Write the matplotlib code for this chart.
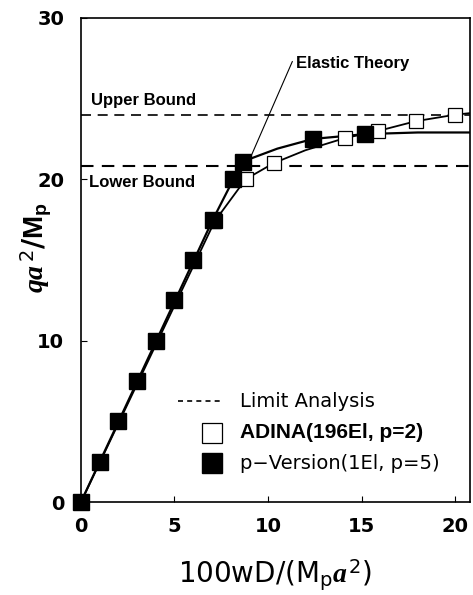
import matplotlib.pyplot as plt

# Load-deflection data (q a^2 / Mp vs 100 w D / (Mp a^2))
adina_x = [0, 1, 2, 3, 4, 5, 6, 7.15, 8.8, 10.3, 14.1, 15.9, 17.9, 20.0]
adina_y = [0, 2.5, 5, 7.5, 10, 12.5, 15, 17.4, 20.0, 21.0, 22.55, 23.0, 23.6, 24.0]
pver_x = [0, 1, 2, 3, 4, 5, 6, 7.05, 8.15, 8.65, 12.4, 15.2]
pver_y = [0, 2.5, 5, 7.5, 10, 12.5, 15, 17.5, 20.0, 21.1, 22.5, 22.8]

# fitted curves through each data set
adina_curve_x = [0, 7.15, 8.8, 10.3, 12.0, 14.1, 15.9, 17.9, 20.0, 20.8]
adina_curve_y = [0, 17.4, 20.0, 21.0, 21.8, 22.55, 23.0, 23.6, 24.0, 24.1]
pver_curve_x = [0, 7.05, 8.15, 8.65, 10.5, 12.4, 15.2, 18.0, 20.8]
pver_curve_y = [0, 17.5, 20.0, 21.1, 21.9, 22.5, 22.8, 22.9, 22.9]

upper_bound = 24.0
lower_bound = 20.8

plt.rcParams['font.family'] = ['DejaVu Sans']
plt.rcParams['mathtext.fontset'] = 'custom'
plt.rcParams['mathtext.rm'] = 'DejaVu Sans'
plt.rcParams['mathtext.it'] = 'Liberation Serif:italic:bold'
plt.rcParams['mathtext.bf'] = 'Liberation Sans:bold'

fig = plt.figure(figsize=(4.73, 5.95), dpi=100)
ax = fig.add_axes([0.171, 0.156, 0.823, 0.814])

ax.plot(adina_curve_x, adina_curve_y, color='black', lw=1.3, zorder=2)
ax.plot(pver_curve_x, pver_curve_y, color='black', lw=1.6, zorder=2)
ax.axhline(upper_bound, color='black', lw=1.2, ls=(0, (6, 4)), zorder=1)
ax.axhline(lower_bound, color='black', lw=1.5, ls=(0, (6, 4)), zorder=1)

ax.plot(adina_x, adina_y, ls='none', marker='s', ms=10, mfc='white',
        mec='black', mew=0.9, zorder=3, clip_on=False)
ax.plot(pver_x, pver_y, ls='none', marker='s', ms=11, mfc='black',
        mec='black', zorder=4, clip_on=False)

# Elastic theory leader line and bound labels
ann_font = dict(family='Liberation Sans', fontsize=12, fontweight='bold', va='center')
ax.annotate('', xy=(8.93, 21.0), xytext=(11.3, 27.3),
            arrowprops=dict(arrowstyle='-', color='black', lw=0.8,
                            shrinkA=0, shrinkB=0))
ax.text(11.5, 27.15, 'Elastic Theory', ha='left', **ann_font)
ax.text(0.55, 24.9, 'Upper Bound', ha='left', **ann_font)
ax.text(0.45, 19.8, 'Lower Bound', ha='left', **ann_font)

# legend drawn by hand
ax.plot([5.2, 7.6], [6.25, 6.25], color='black', lw=1.2, ls=(0, (3, 2.5)))
ax.text(8.5, 6.25, 'Limit Analysis', fontsize=14, va='center')
ax.plot([7.03], [4.3], ls='none', marker='s', ms=14, mfc='white', mec='black', mew=0.9)
ax.text(8.5, 4.3, 'ADINA(196El, p=2)', family='Liberation Sans', fontsize=15,
        fontweight='bold', va='center')
ax.plot([7.03], [2.4], ls='none', marker='s', ms=14, mfc='black', mec='black')
ax.text(8.5, 2.4, 'p\u2212Version(1El, p=5)', fontsize=14, va='center')

ax.set_xlim(0, 20.8)
ax.set_ylim(0, 30)
ax.set_xticks([0, 5, 10, 15, 20])
ax.set_yticks([0, 10, 20, 30])
ax.tick_params(direction='in', length=4, width=0.8, labelsize=14)
ax.tick_params(axis='y', pad=12)
ax.tick_params(axis='x', pad=11)
for lab in ax.get_xticklabels() + ax.get_yticklabels():
    lab.set_fontweight('bold')
for s in ax.spines.values():
    s.set_linewidth(1.2)

ax.set_xlabel(r'100wD/(M$_\mathrm{p}$$\mathit{a}$$^{\,2}$)', fontsize=20)
ax.xaxis.set_label_coords(0.5, -0.115)
ax.set_ylabel(r'$\mathit{qa}^{\,2}$/$\mathbf{M}_\mathbf{p}$', fontsize=20, fontweight='bold')
ax.yaxis.set_label_coords(-0.07, 0.525)

fig.savefig('out.png', dpi=100)
